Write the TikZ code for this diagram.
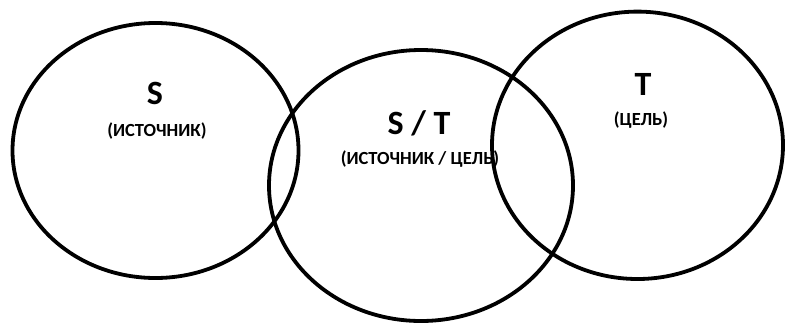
\documentclass[tikz,border=0pt]{standalone}
\usepackage{fontspec}
\setmainfont{Carlito}
\begin{document}
\begin{tikzpicture}[x=1pt,y=-1pt,
  ring/.style={line width=3.8pt,black},
  big/.style={font=\fontsize{34}{34}\selectfont\bfseries,inner sep=0pt},
  small/.style={font=\fontsize{18.5}{19}\selectfont\bfseries,inner sep=0pt}]
\useasboundingbox (0,0) rectangle (785,322);
\clip (0,0) rectangle (785,322);
\draw[ring] (155.5,150.5) ellipse [x radius=143, y radius=127.5];
\draw[ring] (421,185.5) ellipse [x radius=152, y radius=135.5];
\draw[ring] (637.5,145.3) ellipse [x radius=145.5, y radius=133.7];
\node[big] (s) at (155,93) {S};
\node[small] (sl) at (157,131) {(ИСТОЧНИК)};
\node[big] (st) at (419,123) {S / T};
\node[small] (stl) at (420,159.5) {(ИСТОЧНИК / ЦЕЛЬ)};
\node[big] (t) at (643,84) {T};
\node[small] (tl) at (641,120) {(ЦЕЛЬ)};
\end{tikzpicture}
\end{document}
